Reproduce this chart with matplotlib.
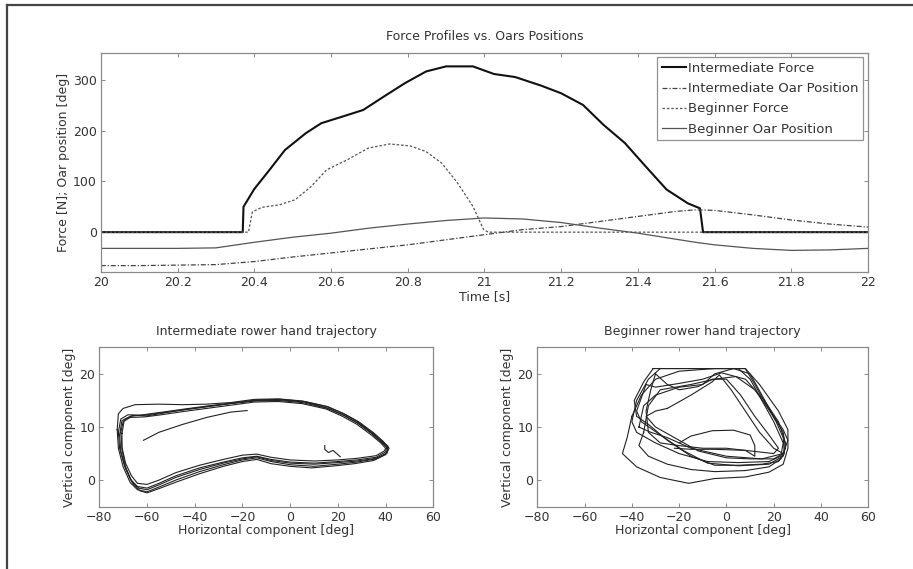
import matplotlib
matplotlib.use("Agg")
import matplotlib.pyplot as plt
from matplotlib.lines import Line2D

plt.rcParams['font.family'] = ['DejaVu Sans']
plt.rcParams['font.size'] = 9

# ---------------- data: top panel ----------------
inter_force_t = [20.0, 20.37, 20.372, 20.40, 20.44, 20.48, 20.534, 20.575, 20.63, 20.684, 20.739,
                 20.793, 20.848, 20.90, 20.97, 21.025, 21.08, 21.148, 21.20, 21.257, 21.31,
                 21.366, 21.42, 21.475, 21.53, 21.562, 21.57, 22.0]
inter_force_v = [0, 0, 50, 85, 123, 162, 195, 215, 228, 241, 268,
                 294, 317, 327, 327, 312, 306, 289, 274, 251, 212,
                 176, 130, 84, 57, 47, 0, 0]

beg_force_t = [20.0, 20.385, 20.395, 20.42, 20.466, 20.507, 20.548, 20.589, 20.643, 20.698, 20.753,
               20.807, 20.848, 20.889, 20.93, 20.97, 20.998, 21.01, 22.0]
beg_force_v = [0, 0, 40, 49, 54, 64, 90, 123, 143, 166, 174,
               170, 159, 136, 97, 51, 5, 0, 0]

oar_t = [20.0, 20.1, 20.2, 20.3, 20.4, 20.5, 20.6, 20.7, 20.8, 20.9, 21.0,
         21.1, 21.2, 21.3, 21.4, 21.5, 21.55, 21.6, 21.7, 21.8, 21.9, 22.0]
inter_oar_v = [-66, -66, -65, -64, -58, -49, -41, -33, -25, -15, -5,
               5, 11, 21, 31, 41, 44, 43, 34, 24, 16, 10]
beg_oar_v = [-32, -32, -32, -31, -20, -10, -2, 8, 16, 23, 28,
             26, 19, 8, -2, -14, -20, -25, -32, -36, -35, -32]

legend_labels = ['Intermediate Force', 'Intermediate Oar Position',
                 'Beginner Force', 'Beginner Oar Position']
top_xticks = [20, 20.2, 20.4, 20.6, 20.8, 21, 21.2, 21.4, 21.6, 21.8, 22]
top_xticklabels = ['20', '20.2', '20.4', '20.6', '20.8', '21', '21.2', '21.4', '21.6', '21.8', '22']
top_yticks = [0, 100, 200, 300]

# ---------------- data: hand trajectories ----------------
inter_cycle1 = [(-72, 9), (-71, 11.5), (-68, 12.3), (-62, 12.2), (-55, 12.6), (-45, 13.2), (-35, 13.8),
                (-25, 14.4), (-15, 14.9), (-5, 15), (5, 14.6), (15, 13.6), (22, 12.3), (28, 10.8),
                (34, 8.8), (38, 7.2), (40.5, 6.2), (40, 5.3), (36, 4.3), (28, 3.8), (20, 3.5), (10, 3.2),
                (0, 3.4), (-8, 3.9), (-14, 4.5), (-20, 4.2), (-28, 3.4), (-38, 2.3), (-48, 0.8),
                (-55, -0.6), (-60, -1.5), (-64, -1.2), (-67, 0.2), (-69.5, 2.8), (-71.5, 6), (-72, 9)]
inter_cycle2 = [(-72.5, 9.5), (-72, 12.5), (-70, 13.5), (-65, 14.2), (-55, 14.3), (-45, 14.2), (-35, 14.3),
                (-25, 14.6), (-15, 15.2), (-5, 15.3), (5, 14.9), (15, 13.9), (22, 12.6), (28, 11.1),
                (34, 9.1), (38, 7.5), (41, 6.4), (40.5, 5.0), (36, 4.0), (28, 3.4), (20, 3.0), (10, 2.6),
                (0, 2.9), (-8, 3.5), (-14, 4.2), (-20, 3.8), (-28, 2.9), (-38, 1.6), (-48, 0.0),
                (-55, -1.3), (-60, -2.2), (-64, -1.8), (-67, -0.5), (-70, 2.5), (-72, 6), (-72.5, 9.5)]
inter_cycle3 = [(-71, 9), (-70, 11.0), (-67, 11.8), (-61, 11.9), (-54, 12.3), (-45, 12.9), (-35, 13.5),
                (-25, 14.1), (-15, 14.7), (-5, 14.8), (5, 14.4), (15, 13.4), (22, 12.0), (28, 10.5),
                (34, 8.5), (38, 7.0), (40, 6.0), (39.5, 5.5), (36, 4.6), (28, 4.1), (20, 3.8), (10, 3.6),
                (0, 3.8), (-8, 4.3), (-14, 4.9), (-20, 4.7), (-28, 3.9), (-38, 2.8), (-48, 1.4),
                (-55, 0.0), (-60, -0.8), (-64, -0.6), (-66.5, 0.8), (-69, 3.2), (-70.5, 6.2), (-71, 9)]
inter_cycle4 = [(-71.5, 8.5), (-70.5, 11.2), (-67, 12.0), (-60, 12.4), (-52, 12.9), (-44, 13.4), (-34, 14.0),
                (-24, 14.5), (-14, 15.0), (-4, 15.1), (6, 14.7), (16, 13.5), (23, 12.1), (29, 10.6),
                (35, 8.6), (39, 7.0), (41, 6.0), (40, 4.8), (35, 3.7), (27, 3.1), (19, 2.7), (9, 2.3),
                (0, 2.6), (-8, 3.1), (-14, 3.9), (-20, 3.5), (-28, 2.6), (-38, 1.2), (-48, -0.4),
                (-55, -1.6), (-60, -2.4), (-63, -2.0), (-66, -0.6), (-69, 2.2), (-71, 5.5), (-71.5, 8.5)]
inter_cycle5 = [(-70.5, 8.8), (-69.5, 11.4), (-66, 12.2), (-60, 12.1), (-52, 12.7), (-44, 13.3), (-34, 13.9),
                (-24, 14.5), (-14, 15.1), (-4, 15.2), (6, 14.8), (16, 13.8), (23, 12.4), (29, 10.9),
                (35, 8.9), (39, 7.3), (41.5, 6.0), (40.5, 5.1), (36, 4.1), (28, 3.6), (20, 3.3), (10, 3.0),
                (0, 3.2), (-8, 3.7), (-14, 4.4), (-20, 4.0), (-28, 3.2), (-38, 2.0), (-48, 0.5),
                (-55, -0.9), (-60, -1.8), (-63.5, -1.5), (-66.5, -0.2), (-69, 2.5), (-70.5, 5.8), (-70.5, 8.8)]
inter_start = [(-61.5, 7.5), (-55, 9.0), (-45, 10.5), (-35, 11.8), (-25, 12.8), (-18, 13.1)]
inter_end = [(14.5, 6.5), (14.5, 5.8), (16, 5.2), (18, 5.6), (21, 4.4)]

beg_cycle1 = [(-31, 21), (-20, 21), (-5, 21), (8, 21), (12, 18), (17, 14), (21, 11), (24, 8), (24.5, 5),
              (22, 3.5), (15, 3), (5, 2.8), (-5, 2.8), (-15, 4.5), (-25, 7.5), (-33, 10.5), (-38, 12),
              (-39, 15), (-35, 18.5), (-31, 21)]
beg_cycle2 = [(-28, 21), (-10, 21), (5, 21), (10, 19), (15, 15), (20, 11), (24, 7), (23, 4.5), (18, 3.5),
              (5, 3.3), (-8, 3.5), (-20, 5), (-30, 7), (-38, 9), (-40, 11), (-38, 15), (-33, 19), (-28, 21)]
beg_cycle3 = [(-34, 18), (-38, 13), (-36, 11), (-28, 8.5), (-18, 5.5), (-8, 3.2), (5, 2.7), (18, 3),
              (24, 4.5), (25, 7), (22, 11), (16, 15), (8, 19), (-2, 20.2), (-10, 19), (-20, 18.2),
              (-30, 17.5), (-34, 18)]
beg_cycle4 = [(-40, 12), (-42, 8), (-44, 5), (-38, 2.5), (-28, 0.5), (-16, -0.6), (-5, 0.3), (8, 0.6),
              (18, 1.5), (24, 3), (26, 6), (26, 9.5), (22, 13), (14, 18), (8, 21), (-5, 21), (-20, 20.5),
              (-30, 19), (-36, 16), (-40, 12)]
beg_cycle5 = [(-20, 7.0), (-15, 8.3), (-6, 9.3), (3, 9.4), (10, 8.5), (12, 6.5), (12, 4.5), (8, 5.6),
              (-5, 5.8), (-15, 5.8), (-22, 6.0)]
beg_cycle6 = [(-25, 13.5), (-15, 16), (-6, 18.5), (-3, 19.8), (2, 17), (8, 13), (14, 9), (20, 6),
              (24, 5), (20, 4), (10, 4), (0, 4.2), (-12, 5.5), (-22, 8), (-30, 10), (-34, 12),
              (-30, 13), (-25, 13.5)]
beg_cycle7 = [(-37, 10), (-35, 14), (-30, 16), (-20, 17.5), (-10, 18), (-5, 20), (3, 21), (10, 20),
              (15, 16), (20, 12), (24, 9.5), (26, 7.5), (24, 5), (15, 4), (0, 4.5), (-15, 6),
              (-25, 8), (-32, 9), (-37, 10)]
beg_cycle8 = [(-35, 9), (-37, 6.5), (-33, 4.5), (-25, 3), (-15, 2), (-5, 1.6), (8, 1.8), (18, 2.5),
              (23, 4), (25, 6), (24, 9), (20, 12), (12, 17), (4, 19.5), (-5, 19), (-15, 18),
              (-28, 17), (-33, 14), (-35, 9)]
beg_cycle9 = [(-30, 20), (-25, 18), (-20, 17), (-12, 17.6), (-6, 19), (0, 19), (6, 16), (12, 12),
              (18, 8.5), (22, 6), (20, 5), (10, 5.5), (0, 6), (-10, 6), (-20, 6.5), (-28, 7),
              (-33, 9), (-34, 13), (-32, 17), (-30, 20)]

traj_xticks = [-80, -60, -40, -20, 0, 20, 40, 60]
traj_yticks = [0, 10, 20]

inter_paths = [inter_cycle1, inter_cycle2, inter_cycle3, inter_cycle4, inter_cycle5, inter_start, inter_end]
beg_paths = [beg_cycle1, beg_cycle2, beg_cycle3, beg_cycle4, beg_cycle5, beg_cycle6,
             beg_cycle7, beg_cycle8, beg_cycle9]

# ---------------- figure ----------------
W, H = 913, 569
fig = plt.figure(figsize=(W / 100, H / 100), dpi=100)
fig.patch.set_facecolor('white')

txt = '#333333'
spine_c = '#8a8a8a'


def style_axes(ax):
    for s in ax.spines.values():
        s.set_color(spine_c)
        s.set_linewidth(0.9)
    ax.tick_params(direction='in', length=3, width=0.7, colors=spine_c,
                   labelcolor=txt, labelsize=9, top=True, right=True, pad=3)


def box(l, r, t, b):
    return [l / W, 1 - b / H, (r - l) / W, (b - t) / H]


ax1 = fig.add_axes(box(100.8, 868, 52.7, 271.7))
ax1.plot(inter_force_t, inter_force_v, color='#111111', lw=1.5, label=legend_labels[0])
ax1.plot(oar_t, inter_oar_v, color='#444444', lw=0.9, ls=(0, (4, 1.5, 1, 1.5)), label=legend_labels[1])
ax1.plot(beg_force_t, beg_force_v, color='#555555', lw=0.9, ls=(0, (2, 1.5)), label=legend_labels[2])
ax1.plot(oar_t, beg_oar_v, color='#555555', lw=0.9, label=legend_labels[3])
ax1.set_xlim(20, 22)
ax1.set_ylim(-78, 354)
ax1.set_xticks(top_xticks)
ax1.set_xticklabels(top_xticklabels)
ax1.set_yticks(top_yticks)
style_axes(ax1)
ax1.set_title('Force Profiles vs. Oars Positions', fontsize=9, color=txt, pad=9)
ax1.set_xlabel('Time [s]', fontsize=9, color=txt, labelpad=1)
ax1.set_ylabel('Force [N]; Oar position [deg]', fontsize=9, color=txt, labelpad=2)
leg = ax1.legend(loc='upper right', fontsize=9.5, frameon=True, fancybox=False,
                 borderpad=0.35, labelspacing=0.55, handlelength=1.8, handletextpad=0.2,
                 borderaxespad=0.35)
leg.get_frame().set_edgecolor('#777777')
leg.get_frame().set_linewidth(0.9)
for t in leg.get_texts():
    t.set_color(txt)

ax2 = fig.add_axes(box(99.3, 433.3, 347.3, 506.7))
for p in inter_paths:
    ax2.plot([q[0] for q in p], [q[1] for q in p], color='#222222', lw=0.8)
ax2.set_xlim(-80, 60)
ax2.set_ylim(-5, 25)
ax2.set_xticks(traj_xticks)
ax2.set_yticks(traj_yticks)
style_axes(ax2)
ax2.set_title('Intermediate rower hand trajectory', fontsize=9, color=txt, pad=9)
ax2.set_xlabel('Horizontal component [deg]', fontsize=9, color=txt, labelpad=0)
ax2.set_ylabel('Vertical component [deg]', fontsize=9, color=txt, labelpad=2)

ax3 = fig.add_axes(box(537.3, 868.3, 347.3, 506.7))
for p in beg_paths:
    ax3.plot([q[0] for q in p], [q[1] for q in p], color='#222222', lw=0.8)
ax3.set_xlim(-80, 60)
ax3.set_ylim(-5, 25)
ax3.set_xticks(traj_xticks)
ax3.set_yticks(traj_yticks)
style_axes(ax3)
ax3.set_title('Beginner rower hand trajectory', fontsize=9, color=txt, pad=9)
ax3.set_xlabel('Horizontal component [deg]', fontsize=9, color=txt, labelpad=0)
ax3.set_ylabel('Vertical component [deg]', fontsize=9, color=txt, labelpad=2)

# scanned page border (top and left edges)
fig.add_artist(Line2D([7 / W, 1.0], [1 - 5 / H, 1 - 5 / H], transform=fig.transFigure,
                      color='#444444', lw=1.6))
fig.add_artist(Line2D([7 / W, 7 / W], [0.0, 1 - 5 / H], transform=fig.transFigure,
                      color='#444444', lw=1.6))

fig.savefig('out.png', dpi=100, facecolor='white')
